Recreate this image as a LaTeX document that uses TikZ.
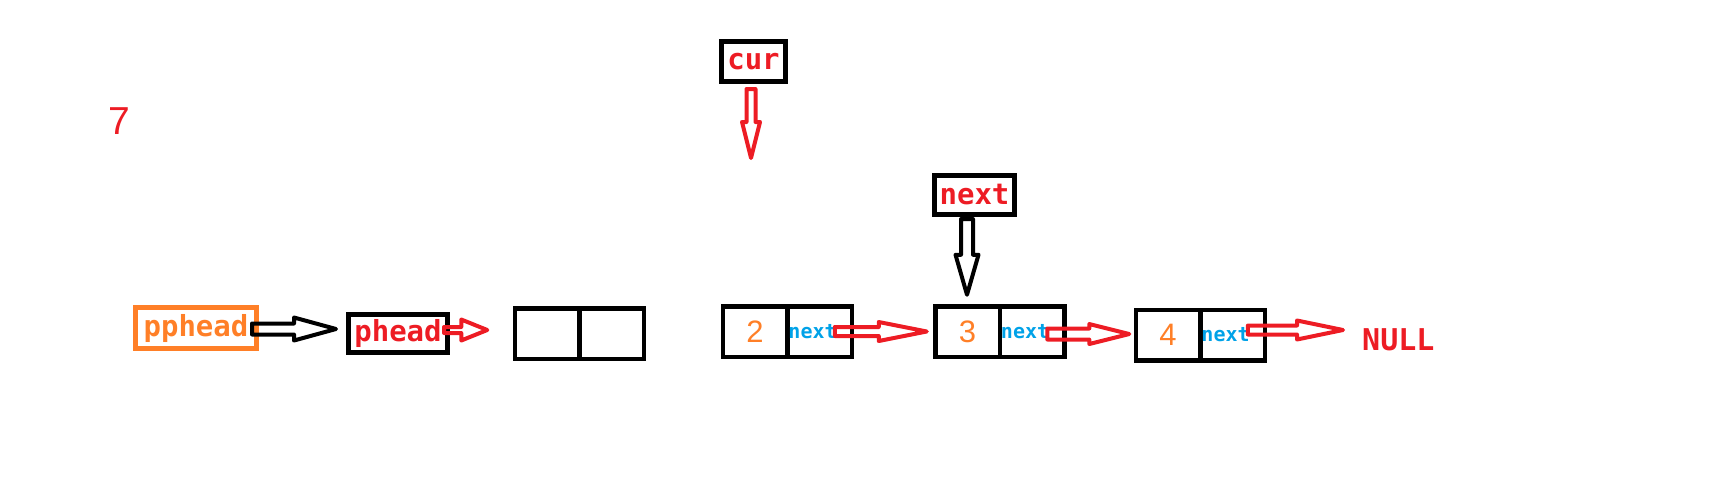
\documentclass[tikz,border=0pt]{standalone}
\usepackage{fontspec}
\setmainfont{Liberation Sans}
\setmonofont{DejaVu Sans Mono}
\usepackage{tikz}
\usetikzlibrary{calc,positioning}

\definecolor{paintred}{RGB}{237,28,36}
\definecolor{paintorange}{RGB}{255,127,39}
\definecolor{paintblue}{RGB}{0,162,232}

% hollow block arrow: [colour]{from}{to}{head length}{shaft half width}{head half width}
\newcommand{\fatarrow}[6][black]{%
  \coordinate (fah) at ($(#3)!#4pt!(#2)$);
  \draw[#1, line width=4pt, line join=round]
    ($(#2)!#5pt!90:(#3)$) -- ($(fah)!#5pt!90:(#3)$) -- ($(fah)!#6pt!90:(#3)$) -- (#3)
    -- ($(fah)!#6pt!-90:(#3)$) -- ($(fah)!#5pt!-90:(#3)$) -- ($(#2)!#5pt!-90:(#3)$) -- cycle;
}

\begin{document}
\begin{tikzpicture}[x=1pt, y=-1pt,
    box/.style={draw, line width=4.5pt, inner sep=0pt, outer sep=0pt},
    cell/.style={box, minimum width=64.5pt, minimum height=50.5pt},
    ptrtext/.style={font=\ttfamily\bfseries\fontsize{29}{29}\selectfont},
    nexttext/.style={inner sep=0pt, text=paintblue, font=\ttfamily\bfseries\fontsize{20}{20}\selectfont},
    digit/.style={text=paintorange, font=\fontsize{31}{31}\selectfont}]
                \useasboundingbox (0,0) rectangle (1728,499);

                % Pointer boxes
                \node[box, line width=5pt, draw=paintorange, text=paintorange, ptrtext,
                      minimum width=121pt, minimum height=41pt] (pphead) at (196,328) {pphead};
                \node[box, line width=5pt, text=paintred, ptrtext,
                      minimum width=99pt, minimum height=38pt] (phead) at (398,333.5) {phead};
                \node[box, line width=5pt, text=paintred, ptrtext,
                      minimum width=64pt, minimum height=40pt] (cur) at (753.5,61.5) {cur};
                \node[box, line width=5pt, text=paintred, ptrtext,
                      minimum width=80pt, minimum height=39pt] (next) at (974.5,195) {next};

                % List nodes
                \node[cell] (n1a) at (547,333.5) {};
                \node[cell, right=0pt of n1a] (n1b) {};
                \node[cell, digit] (n2a) at (755,331.5) {2};
                \node[cell, right=0pt of n2a] (n2b) {};
                \node[nexttext, right=1pt of n2a.east] (t2) {next};
                \node[cell, digit] (n3a) at (967.5,331.5) {3};
                \node[cell, right=0pt of n3a] (n3b) {};
                \node[nexttext, right=1pt of n3a.east] (t3) {next};
                \node[cell, digit] (n4a) at (1168,335) {4};
                \node[cell, right=0pt of n4a] (n4b) {};
                \node[nexttext, right=1pt of n4a.east] (t4) {next};

                % NULL and step number
                \node[ptrtext, text=paintred, inner sep=0pt, anchor=west,
                      font=\ttfamily\bfseries\fontsize{30}{30}\selectfont] (null) at (1362,340) {NULL};
                \node[text=paintred, inner sep=0pt, font=\fontsize{39}{39}\selectfont] (seven) at (119,121) {7};

                % Arrows
                \coordinate (a1s) at ($(pphead.east)+(-4.5,1)$);
                \coordinate (a1e) at ($(phead.west |- a1s)+(-12.5,0)$);
                \fatarrow{a1s}{a1e}{42}{5.5}{11.5}

                \coordinate (a2s) at ($(phead.east)+(-3.5,-3.5)$);
                \coordinate (a2e) at ($(n1a.west |- a2s)+(-27.5,0)$);
                \fatarrow[paintred]{a2s}{a2e}{26}{3}{10.5}

                \coordinate (a3s) at ($(t2.east)+(-2,0)$);
                \coordinate (a3e) at ($(n3a.west |- a3s)+(-8.5,0)$);
                \fatarrow[paintred]{a3s}{a3e}{48}{4.5}{9.5}

                \coordinate (a4s) at ($(t3.east)+(-2,2.5)$);
                \coordinate (a4e) at ($(n4a.west |- a4s)+(-6.5,0)$);
                \fatarrow[paintred]{a4s}{a4e}{40}{5.5}{10}

                \coordinate (a5s) at ($(t4.east)+(-2,-5)$);
                \coordinate (a5e) at ($(null.west |- a5s)+(-19,0)$);
                \fatarrow[paintred]{a5s}{a5e}{46}{4.5}{9.5}

                \coordinate (a6s) at ($(cur.south)+(-2.5,7.5)$);
                \coordinate (a6e) at ($(a6s)+(0,69)$);
                \fatarrow[paintred]{a6s}{a6e}{36}{4.5}{9}

                \coordinate (a7s) at ($(next.south)+(-7.5,4.5)$);
                \coordinate (a7e) at ($(n3a.north -| a7s)+(0,-11.5)$);
                \fatarrow{a7s}{a7e}{40}{6}{11.5}
            \end{tikzpicture}
\end{document}
